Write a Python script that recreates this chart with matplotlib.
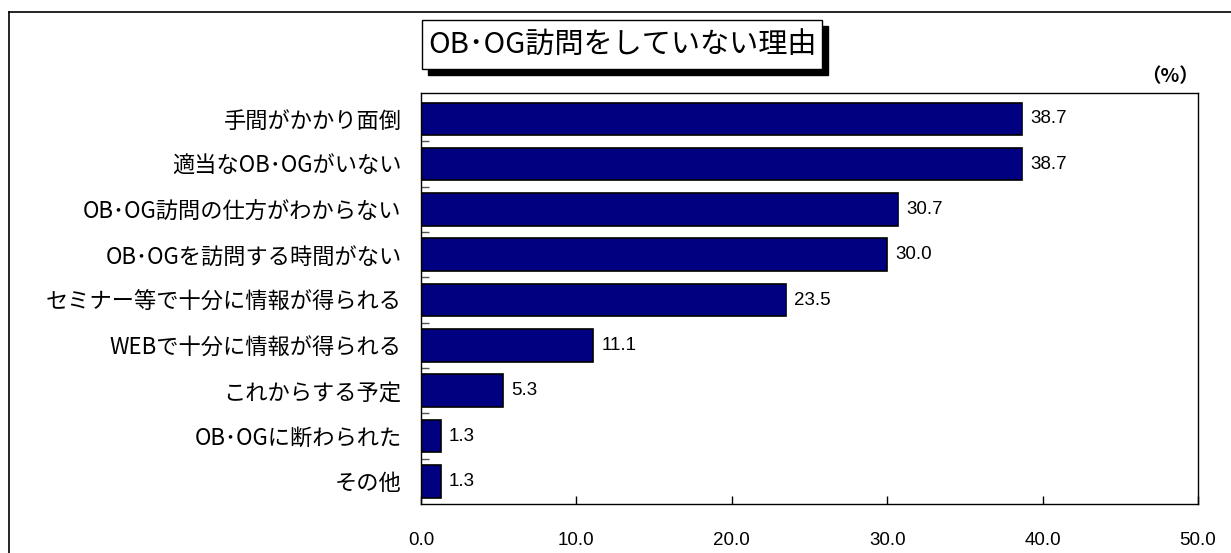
"""
Bar chart: reasons for not doing OB/OG visits.
"""

import matplotlib.pyplot as plt
from matplotlib.patches import Rectangle
from matplotlib.lines import Line2D

# Data
CATEGORIES = [
    '手間がかかり面倒',
    '適当なOB･OGがいない',
    'OB･OG訪問の仕方がわからない',
    'OB･OGを訪問する時間がない',
    'セミナー等で十分に情報が得られる',
    'WEBで十分に情報が得られる',
    'これからする予定',
    'OB･OGに断わられた',
    'その他',
]
VALUES = [38.7, 38.7, 30.7, 30.0, 23.5, 11.1, 5.3, 1.3, 1.3]
X_TICKS = [0, 10, 20, 30, 40, 50]
TITLE = 'OB･OG訪問をしていない理由'

W, H = 1231, 553
plt.rcParams['font.family'] = ['Noto Sans CJK JP', 'DejaVu Sans']
NUM_FONT = ['Liberation Sans', 'DejaVu Sans']

fig = plt.figure(figsize=(W / 100, H / 100), dpi=100)

# Plot area in pixel coordinates
left, right, top, bottom = 421, 1198, 93, 504
ax = fig.add_axes([left / W, 1 - bottom / H, (right - left) / W, (bottom - top) / H])

y = list(range(len(CATEGORIES)))
ax.barh(y, VALUES, height=0.72, color='#000080', edgecolor='black', linewidth=1.2)

for yi, v in zip(y, VALUES):
    ax.text(v + 0.5, yi, f'{v:.1f}', va='center', ha='left', fontsize=13.5,
            family=NUM_FONT)

ax.set_xlim(0, 50)
ax.set_ylim(len(CATEGORIES) - 0.5, -0.57)

ax.set_xticks(X_TICKS)
ax.set_xticklabels([f'{t:.1f}' for t in X_TICKS], fontsize=13.5, family=NUM_FONT)
ax.tick_params(axis='x', direction='in', length=6, width=1, pad=20)

# category labels and small boundary ticks on the left spine
ax.set_yticks(y)
ax.set_yticklabels(CATEGORIES, fontsize=16)
ax.tick_params(axis='y', length=0, pad=14)
ax.set_yticks([i + 0.5 for i in y[:-1]], minor=True)
ax.tick_params(axis='y', which='minor', direction='in', length=6, width=1, color='#555555')

for s in ax.spines.values():
    s.set_linewidth(1)

# outer frame (top and left edges)
fig.add_artist(Line2D([9 / W, 1.0], [1 - 12 / H, 1 - 12 / H], color='black', lw=1.2,
                      transform=fig.transFigure))
fig.add_artist(Line2D([9 / W, 9 / W], [1 - 12 / H, 0], color='black', lw=1.2,
                      transform=fig.transFigure))

# title box with drop shadow
bx, by, bw, bh = 422, 20, 400, 49
fig.add_artist(Rectangle(((bx + 6) / W, 1 - (by + bh + 6) / H), bw / W, bh / H,
                         facecolor='black', edgecolor='black', transform=fig.transFigure))
fig.add_artist(Rectangle((bx / W, 1 - (by + bh) / H), bw / W, bh / H,
                         facecolor='white', edgecolor='black', lw=1, transform=fig.transFigure))
fig.text((bx + 6) / W, 1 - (by + bh / 2) / H, TITLE, fontsize=21, va='center', ha='left')

fig.text(1170 / W, 1 - 77 / H, '（%）', fontsize=14, ha='center', va='center', fontweight='bold')

fig.savefig('out.png', dpi=100)
